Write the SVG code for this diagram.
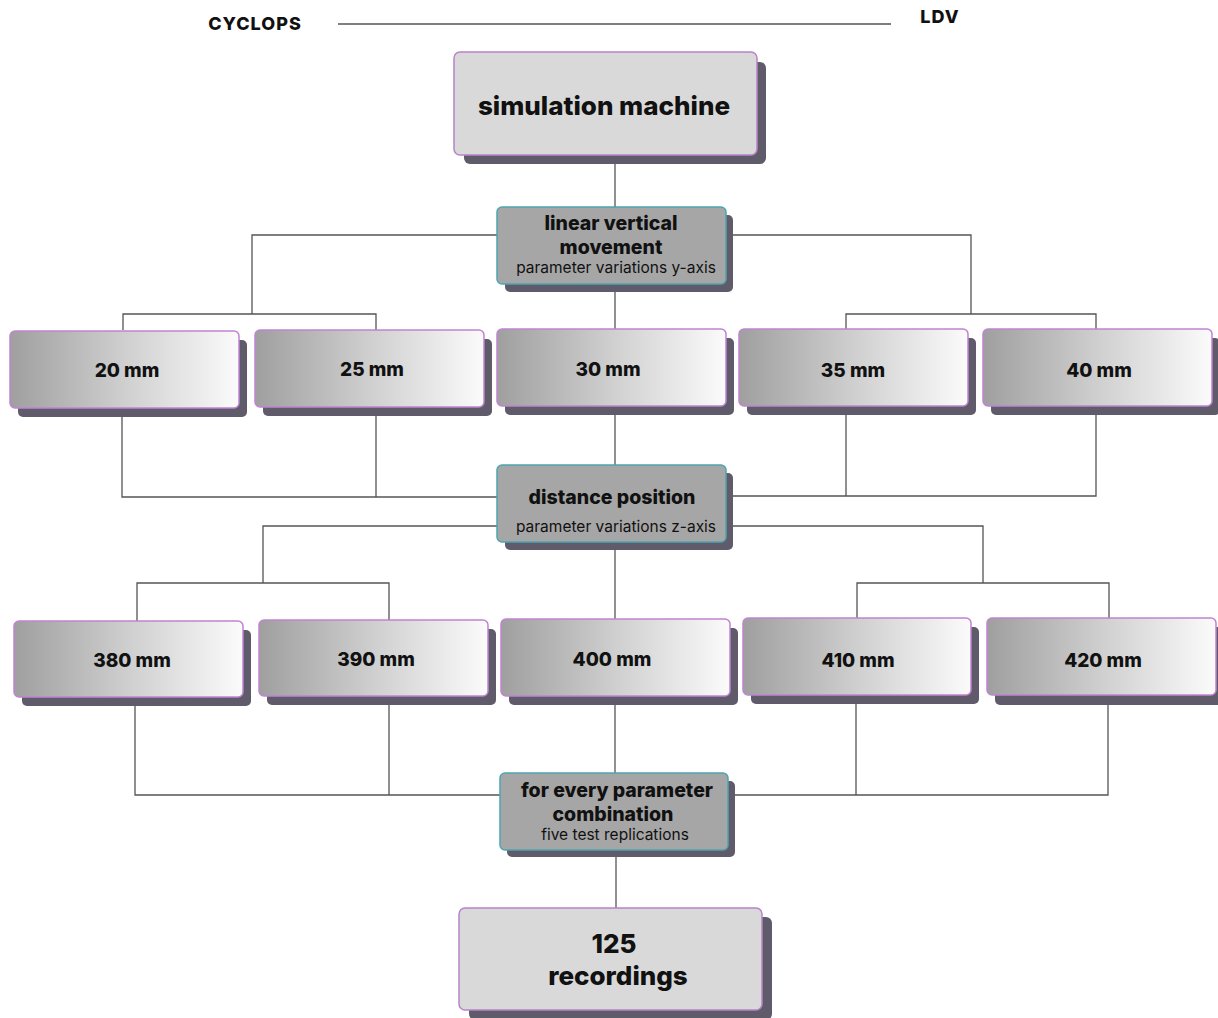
<svg xmlns="http://www.w3.org/2000/svg" width="1218" height="1018" viewBox="0 0 1218 1018">
<defs>
<linearGradient id="g" x1="0" y1="0" x2="1" y2="0">
<stop offset="0" stop-color="#9f9f9f"/>
<stop offset="0.5" stop-color="#cfcfcf"/>
<stop offset="1" stop-color="#fbfbfb"/>
</linearGradient>
<style>
.sh{fill:#5f5b6b}
.big{fill:#d9d9d9;stroke:#b884c8;stroke-width:1.5}
.mid{fill:#a6a6a6;stroke:#4ea5b0;stroke-width:1.5}
.val{fill:url(#g);stroke:#c184d2;stroke-width:1.5}
text{font-family:Inter,"Liberation Sans",sans-serif;fill:#111;text-anchor:middle}
.t1{font-size:26px;font-weight:800}
.t2{font-size:19.5px;font-weight:800}
.t3{font-size:15.5px;font-weight:400}
.lab{font-size:19px;font-weight:800}
.hd{font-size:18px;font-weight:800;letter-spacing:1px}
.c{stroke:#555;stroke-width:1.3;fill:none}
</style>
</defs>
<rect width="1218" height="1018" fill="#fff"/>
<g id="connectors">
<path class="c" d="M338 24H891"/>
<path class="c" d="M615 155V207"/>
<path class="c" d="M497 235H252V314M123 330V314H376V330"/>
<path class="c" d="M726 235H971V314M846 330V314H1096V330"/>
<path class="c" d="M615 284V329"/>
<path class="c" d="M122 408V497H497M376 408V497"/>
<path class="c" d="M733 496H1096V406M846 406V496"/>
<path class="c" d="M615 407V465"/>
<path class="c" d="M497 526H263V583M137 621V583H389V620"/>
<path class="c" d="M733 526H983V583M857 618V583H1109V618"/>
<path class="c" d="M615 542V619"/>
<path class="c" d="M135 697V795H500M389 697V795"/>
<path class="c" d="M735 795H1108V695M856 695V795"/>
<path class="c" d="M615 697V773"/>
<path class="c" d="M616 850V908"/>
</g>
<text class="hd" x="255" y="30">CYCLOPS</text>
<text class="hd" x="940" y="23">LDV</text>
<g id="sim">
<rect class="sh" x="464" y="62" width="302" height="102" rx="6"/>
<rect class="big" x="454" y="52" width="303" height="103" rx="6"/>
<text class="t1" x="604" y="115">simulation machine</text>
</g>
<g id="lvm">
<rect class="sh" x="505" y="215" width="228" height="77" rx="5"/>
<rect class="mid" x="497" y="207" width="229" height="77" rx="5"/>
<text class="t2" x="611" y="230">linear vertical</text>
<text class="t2" x="611" y="254">movement</text>
<text class="t3" x="616" y="273">parameter variations y-axis</text>
</g>
<g id="y20"><rect class="sh" x="18" y="340" width="229" height="77" rx="5"/><rect class="val" x="10" y="331" width="229" height="77" rx="5"/><text class="lab" x="127" y="377">20 mm</text></g>
<g id="y25"><rect class="sh" x="263" y="339" width="229" height="77" rx="5"/><rect class="val" x="255" y="330" width="229" height="77" rx="5"/><text class="lab" x="372" y="376">25 mm</text></g>
<g id="y30"><rect class="sh" x="505" y="338" width="229" height="77" rx="5"/><rect class="val" x="497" y="329" width="229" height="77" rx="5"/><text class="lab" x="608" y="376">30 mm</text></g>
<g id="y35"><rect class="sh" x="747" y="338" width="229" height="77" rx="5"/><rect class="val" x="739" y="329" width="229" height="77" rx="5"/><text class="lab" x="853" y="377">35 mm</text></g>
<g id="y40"><rect class="sh" x="991" y="338" width="229" height="77" rx="5"/><rect class="val" x="983" y="329" width="229" height="77" rx="5"/><text class="lab" x="1099" y="377">40 mm</text></g>
<g id="dp">
<rect class="sh" x="505" y="473" width="228" height="77" rx="5"/>
<rect class="mid" x="497" y="465" width="229" height="77" rx="5"/>
<text class="t2" x="612" y="504">distance position</text>
<text class="t3" x="616" y="532">parameter variations z-axis</text>
</g>
<g id="z380"><rect class="sh" x="22" y="630" width="229" height="76" rx="5"/><rect class="val" x="14" y="621" width="229" height="76" rx="5"/><text class="lab" x="132" y="667">380 mm</text></g>
<g id="z390"><rect class="sh" x="267" y="629" width="229" height="76" rx="5"/><rect class="val" x="259" y="620" width="229" height="76" rx="5"/><text class="lab" x="376" y="666">390 mm</text></g>
<g id="z400"><rect class="sh" x="509" y="628" width="229" height="77" rx="5"/><rect class="val" x="501" y="619" width="229" height="77" rx="5"/><text class="lab" x="612" y="666">400 mm</text></g>
<g id="z410"><rect class="sh" x="751" y="627" width="228" height="77" rx="5"/><rect class="val" x="743" y="618" width="228" height="77" rx="5"/><text class="lab" x="858" y="667">410 mm</text></g>
<g id="z420"><rect class="sh" x="995" y="627" width="229" height="78" rx="5"/><rect class="val" x="987" y="618" width="229" height="77" rx="5"/><text class="lab" x="1103" y="667">420 mm</text></g>
<g id="comb">
<rect class="sh" x="507" y="781" width="228" height="76" rx="5"/>
<rect class="mid" x="500" y="773" width="228" height="77" rx="5"/>
<text class="t2" x="617" y="797">for every parameter</text>
<text class="t2" x="613" y="821">combination</text>
<text class="t3" x="615" y="840">five test replications</text>
</g>
<g id="rec">
<rect class="sh" x="469" y="917" width="303" height="103" rx="6"/>
<rect class="big" x="459" y="908" width="303" height="102" rx="6"/>
<text class="t1" x="614" y="953">125</text>
<text class="t1" x="618" y="985">recordings</text>
</g>
</svg>
